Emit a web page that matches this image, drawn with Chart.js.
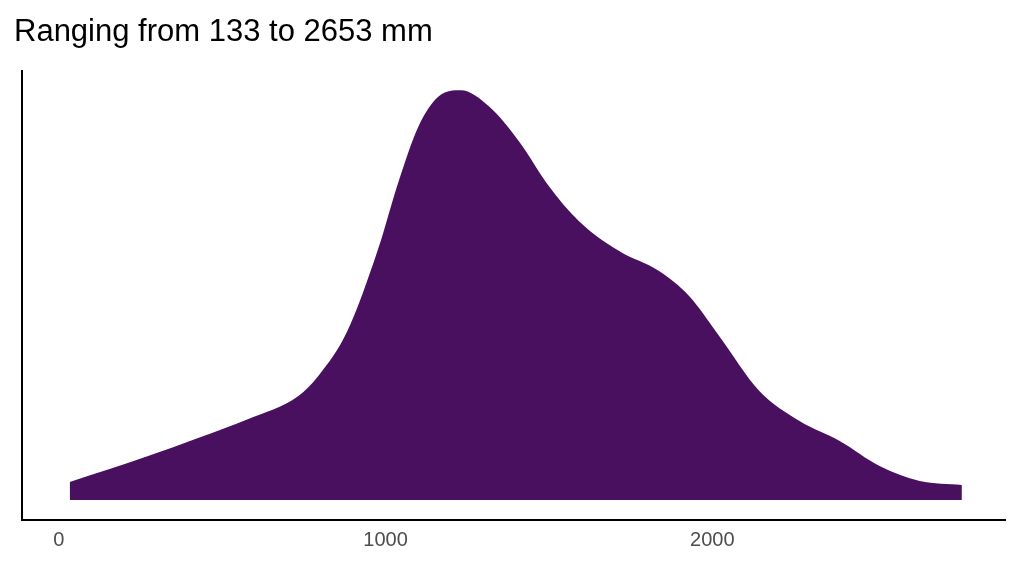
<!DOCTYPE html>
<html>
<head>
<script src="https://cdn.jsdelivr.net/npm/chart.js@4"></script>
<style>
  body { margin: 0; background: #fff; }
  #wrap { width: 1024px; height: 576px; }
</style>
</head>
<body>
<div id="wrap"><canvas id="c"></canvas></div>
<script>
// rainfall values (mm) and estimated density heights
const rainfall = [33, 273, 426, 580, 733, 794, 883, 975, 1040, 1101, 1163, 1230, 1316, 1408, 1500, 1592, 1715, 1837, 1929, 2021, 2144, 2267, 2390, 2512, 2635, 2764];
const density = [18, 44, 62, 81, 104, 124, 169, 249, 319, 374, 404, 410, 394, 359, 314, 279, 249, 229, 204, 164, 109, 79, 59, 34, 19, 15];
const xTicks = [0, 1000, 2000];

new Chart(document.getElementById('c'), {
    type: 'line',
    data: {
        datasets: [{
            data: rainfall.map((x, i) => ({ x: x, y: density[i] })),
            fill: 'origin',
            backgroundColor: '#48105e',
            borderColor: '#48105e',
            borderWidth: 0,
            pointRadius: 0,
            cubicInterpolationMode: 'monotone'
        }]
    },
    options: {
        responsive: true,
        maintainAspectRatio: false,
        animation: false,
        layout: { padding: { left: 14, right: 19, top: 0, bottom: 22 } },
        plugins: {
            legend: { display: false },
            tooltip: { enabled: false },
            title: {
                display: true,
                text: 'Ranging from 133 to 2653 mm',
                align: 'start',
                color: '#000',
                font: { family: 'Liberation Sans', size: 31, weight: 'normal' },
                padding: { top: 14, bottom: 20 }
            }
        },
        scales: {
            x: {
                type: 'linear',
                min: -113,
                max: 2896,
                afterBuildTicks: axis => { axis.ticks = xTicks.map(v => ({ value: v })); },
                grid: { display: false, drawTicks: true, tickLength: 6, tickColor: '#333' },
                border: { color: '#000', width: 2 },
                ticks: {
                    color: '#4d4d4d',
                    font: { family: 'Liberation Sans', size: 20 },
                    padding: 2,
                    callback: v => String(v)
                }
            },
            y: {
                min: -20,
                max: 429,
                grid: { display: false },
                border: { color: '#000', width: 2 },
                ticks: { display: false }
            }
        }
    }
});
</script>
</body>
</html>
